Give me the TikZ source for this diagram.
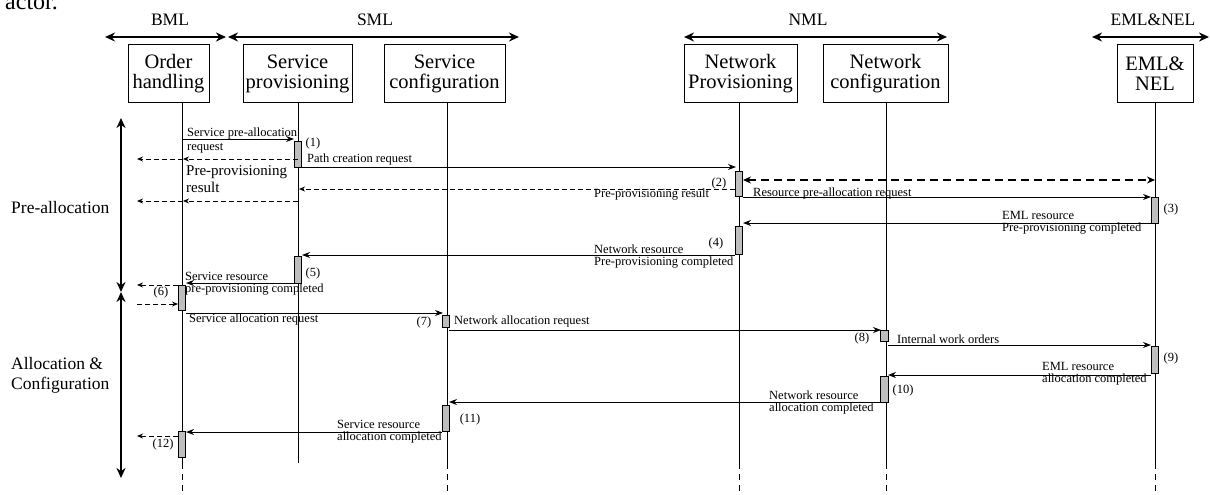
\documentclass[tikz,border=0pt]{standalone}
\usepackage{fontspec}
\setmainfont{Liberation Serif}
\usetikzlibrary{arrows.meta}
\definecolor{actgray}{RGB}{190,190,190}
\tikzset{
 hdr/.style={font=\fontsize{17.5}{20}\selectfont, inner sep=0},
 hdrarrow/.style={{Stealth[length=10pt,width=9pt]}-{Stealth[length=10pt,width=9pt]}, line width=1.8pt},
 actor/.style={draw, line width=1pt, minimum height=57pt, inner sep=0, align=center, font=\fontsize{20.5}{20}\selectfont},
 life/.style={line width=1pt},
 lifedash/.style={line width=1pt, dash pattern=on 6pt off 5pt},
 act/.style={draw, fill=actgray, line width=0.9pt, minimum width=7.5pt, inner sep=0},
 msg/.style={-{Stealth[length=8pt,width=6pt]}, line width=1pt},
 dmsg/.style={-{Stealth[length=6pt,width=5pt]}, line width=1pt, dash pattern=on 5pt off 3pt},
 bigdash/.style={{Stealth[length=8pt,width=7pt]}-{Stealth[length=8pt,width=7pt]}, line width=1.6pt, dash pattern=on 8pt off 5pt},
 mtxt/.style={font=\fontsize{12.5}{12}\selectfont, inner sep=0, anchor=west, align=left},
 num/.style={font=\fontsize{12.5}{14}\selectfont, inner sep=0},
 phase/.style={font=\fontsize{17.5}{20}\selectfont, inner sep=0, anchor=west, align=left},
 timearrow/.style={{Stealth[length=10pt,width=9pt]}-{Stealth[length=10pt,width=9pt]}, line width=1.8pt},
}
\begin{document}
\begin{tikzpicture}[x=1pt,y=-1pt]
\useasboundingbox (0,0) rectangle (1210,495);
% cut-off caption text at the top
\node[anchor=base west, font=\fontsize{24}{24}\selectfont, inner sep=0] (actor) at (5,10) {actor.};
% layer headers
\coordinate (bmlL) at (105,37); \coordinate (bmlR) at (226,37);
\coordinate (smlL) at (228,37); \coordinate (smlR) at (519,37);
\coordinate (nmlL) at (684,37); \coordinate (nmlR) at (947,37);
\coordinate (emlL) at (1092,37); \coordinate (emlR) at (1209,37);
\draw[hdrarrow] (bmlL) -- (bmlR);
\draw[hdrarrow] (smlL) -- (smlR);
\draw[hdrarrow] (nmlL) -- (nmlR);
\draw[hdrarrow] (emlL) -- (emlR);
\node[hdr] (bml) at (170,20) {BML};
\node[hdr] (sml) at (375,20) {SML};
\node[hdr] (nml) at (808,20) {NML};
\node[hdr] (emlnel) at (1153,20) {EML\&NEL};
% actors
\node[actor, minimum width=81pt] (oh) at (168.5,73.5) {Order\\handling};
\node[actor, minimum width=109pt] (sp) at (297.5,73.5) {Service\\provisioning};
\node[actor, minimum width=121pt] (sc) at (444.5,73.5) {Service\\configuration};
\node[actor, minimum width=113pt] (np) at (740.5,73.5) {Network\\Provisioning};
\node[actor, minimum width=125pt] (nc) at (885.5,73.5) {Network\\configuration};
\node[actor, minimum width=76pt] (eml) at (1155,73.5) {EML\&\\NEL};
% lifelines
\foreach \n/\x in {oh/182,sc/447,np/739,nc/886,eml/1155}{
  \coordinate (\n T) at (\x,102);
  \coordinate (\n B) at (\x,463);
  \coordinate (\n E) at (\x,495);
  \draw[life] (\n T) -- (\n B);
  \draw[lifedash] (\n B) -- (\n E);
}
\coordinate (spT) at (298,102); \coordinate (spB) at (298,463);
\draw[life] (spT) -- (spB);
% time axis
\coordinate (tTop) at (121,118); \coordinate (tMid) at (121,292); \coordinate (tBot) at (121,478);
\draw[timearrow] (tTop) -- (tMid);
\draw[timearrow] (tMid) -- (tBot);
\node[phase] (pre) at (11,208) {Pre-allocation};
\node[phase] (alloc) at (11,375) {Allocation \&\\Configuration};
% activations
\node[act, minimum height=26pt] (a1) at (298,154) {};
\node[act, minimum height=25pt] (a2) at (739,183.5) {};
\node[act, minimum height=26pt] (a3) at (1155,210) {};
\node[act, minimum height=28pt] (a4) at (739,240) {};
\node[act, minimum height=27pt] (a5) at (298,269.5) {};
\node[act, minimum height=25pt] (a6) at (182,297.5) {};
\node[act, minimum height=12pt] (a7) at (446,321) {};
\node[act, minimum height=11pt] (a8) at (884.5,335.5) {};
\node[act, minimum height=27pt] (a9) at (1155,359.5) {};
\node[act, minimum height=26pt] (a10) at (884.5,389) {};
\node[act, minimum height=26pt] (a11) at (446,418) {};
\node[act, minimum height=26pt] (a12) at (182,444) {};
% numbers
\node[num] (n1) at (313,143) {(1)};
\node[num] (n2) at (719,183) {(2)};
\node[num] (n3) at (1171,209) {(3)};
\node[num] (n4) at (716,243) {(4)};
\node[num] (n5) at (313,273) {(5)};
\node[num] (n6) at (161,292) {(6)};
\node[num] (n7) at (424,322) {(7)};
\node[num] (n8) at (862,338) {(8)};
\node[num] (n9) at (1171,358) {(9)};
\node[num] (n10) at (903,390) {(10)};
\node[num] (n11) at (470,419) {(11)};
\node[num] (n12) at (163,444) {(12)};
% message end points
\coordinate (m1s) at (182,139);  \coordinate (m1e) at (294,139);
\coordinate (d1s) at (298,159);  \coordinate (d1m) at (183,159); \coordinate (d1e) at (137,159);
\coordinate (m2s) at (302,167);  \coordinate (m2e) at (736,167);
\coordinate (d2s) at (735,189);  \coordinate (d2e) at (299,189);
\coordinate (d3s) at (298,201);  \coordinate (d3m) at (183,201); \coordinate (d3e) at (137,201);
\coordinate (d4s) at (743,180);  \coordinate (d4e) at (1155,180);
\coordinate (m3s) at (743,197);  \coordinate (m3e) at (1151,197);
\coordinate (m4s) at (1151,223); \coordinate (m4e) at (743,223);
\coordinate (m5s) at (735,255);  \coordinate (m5e) at (302,255);
\coordinate (m6s) at (294,283);  \coordinate (m6e) at (186,283);
\coordinate (d5s) at (178,285);  \coordinate (d5e) at (137,285);
\coordinate (d6s) at (137,304);  \coordinate (d6e) at (178,304);
\coordinate (m7s) at (186,313);  \coordinate (m7e) at (443,313);
\coordinate (m8s) at (449,330);  \coordinate (m8e) at (881,330);
\coordinate (m9s) at (888,345);  \coordinate (m9e) at (1151,345);
\coordinate (m10s) at (1151,375); \coordinate (m10e) at (888,375);
\coordinate (m11s) at (881,402); \coordinate (m11e) at (449,402);
\coordinate (m12s) at (442,432); \coordinate (m12e) at (186,432);
\coordinate (d7s) at (178,436);  \coordinate (d7e) at (137,436);
% messages
\draw[msg] (m1s) -- (m1e);
\draw[dmsg] (d1s) -- (d1m); \draw[dmsg] (d1m) -- (d1e);
\draw[msg] (m2s) -- (m2e);
\draw[dmsg] (d2s) -- (d2e);
\draw[dmsg] (d3s) -- (d3m); \draw[dmsg] (d3m) -- (d3e);
\draw[bigdash] (d4s) -- (d4e);
\draw[msg] (m3s) -- (m3e);
\draw[msg] (m4s) -- (m4e);
\draw[msg] (m5s) -- (m5e);
\draw[msg] (m6s) -- (m6e);
\draw[dmsg] (d5s) -- (d5e);
\draw[dmsg] (d6s) -- (d6e);
\draw[msg] (m7s) -- (m7e);
\draw[msg] (m8s) -- (m8e);
\draw[msg] (m9s) -- (m9e);
\draw[msg] (m10s) -- (m10e);
\draw[msg] (m11s) -- (m11e);
\draw[msg] (m12s) -- (m12e);
\draw[dmsg] (d7s) -- (d7e);
% message texts
\node[mtxt, font=\fontsize{12.5}{14}\selectfont] (t1) at (187,140) {Service pre-allocation\\request};
\node[mtxt] (t2) at (307,159) {Path creation request};
\node[mtxt, font=\fontsize{15}{17}\selectfont] (t3) at (186,179.5) {Pre-provisioning\\result};
\node[mtxt] (t4) at (594,195) {Pre-provisioning result};
\node[mtxt] (t5) at (753,193) {Resource pre-allocation request};
\node[mtxt] (t6) at (1002,223) {EML resource\\Pre-provisioning completed};
\node[mtxt] (t7) at (594,256.5) {Network resource\\Pre-provisioning completed};
\node[mtxt] (t8) at (185,284) {Service resource\\pre-provisioning completed};
\node[mtxt] (t9) at (189,319) {Service allocation request};
\node[mtxt] (t10) at (454,321) {Network allocation request};
\node[mtxt] (t11) at (897,339) {Internal work orders};
\node[mtxt] (t12) at (1042,374) {EML resource\\allocation completed};
\node[mtxt] (t13) at (769,402.5) {Network resource\\allocation completed};
\node[mtxt] (t14) at (337,431.5) {Service resource\\allocation completed};
\end{tikzpicture}
\end{document}
